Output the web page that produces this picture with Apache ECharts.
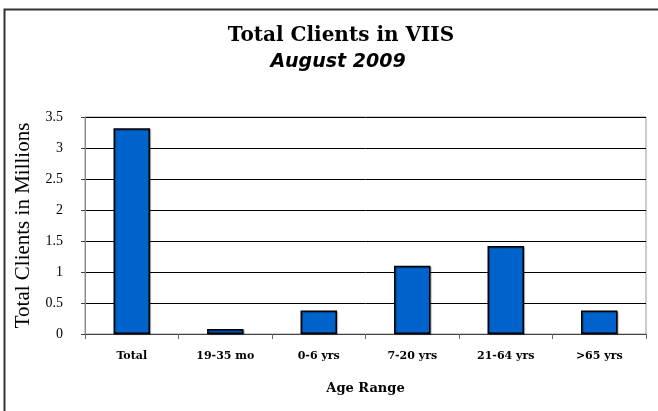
<!DOCTYPE html>
<html>
<head>
<meta charset="utf-8">
<script src="https://cdn.jsdelivr.net/npm/echarts@6/dist/echarts.min.js"></script>
<style>
  html, body { margin: 0; padding: 0; background: #fff; }
  #chart { width: 658px; height: 411px; }
</style>
</head>
<body>
<div id="chart"></div>
<script>
// data (millions of clients)
var categories = ['Total', '19-35 mo', '0-6 yrs', '7-20 yrs', '21-64 yrs', '>65 yrs'];
var clients = [3.32, 0.08, 0.38, 1.10, 1.42, 0.38];
var yTicks = [0, 0.5, 1, 1.5, 2, 2.5, 3, 3.5];

var myChart = echarts.init(document.getElementById('chart'));

var option = {
  backgroundColor: '#fff',
  animation: false,
  // outer chart frame, only top and left edges are inside the picture
  graphic: [{
    type: 'rect',
    shape: { x: 4.5, y: 9.5, width: 720, height: 500 },
    style: { fill: 'none', stroke: '#333', lineWidth: 2 },
    silent: true
  }],
  title: [{
    text: 'Total Clients in VIIS',
    left: 336, top: 21, textAlign: 'center',
    textStyle: { fontFamily: 'DejaVu Serif', fontWeight: 'bold', fontSize: 20, color: '#000' }
  }, {
    text: 'August 2009',
    left: 333, top: 48, textAlign: 'center',
    textStyle: { fontFamily: 'DejaVu Sans', fontWeight: 'bold', fontStyle: 'italic', fontSize: 19, color: '#000' }
  }],
  grid: {
    left: 85, right: 12, top: 117, bottom: 77,
    outerBoundsMode: 'none',
    show: true, borderColor: '#999', borderWidth: 1, backgroundColor: '#fff'
  },
  xAxis: {
    type: 'category',
    data: categories,
    name: 'Age Range',
    nameLocation: 'middle',
    nameGap: 48,
    nameTextStyle: { fontFamily: 'DejaVu Serif', fontWeight: 'bold', fontSize: 13, color: '#000' },
    axisLine: { lineStyle: { color: '#444', width: 1 } },
    axisTick: { show: true, alignWithLabel: false, length: 5, lineStyle: { color: '#666' } },
    axisLabel: { margin: 17, fontFamily: 'DejaVu Serif', fontWeight: 'bold', fontSize: 11, color: '#000' }
  },
  yAxis: {
    type: 'value',
    min: yTicks[0],
    max: yTicks[yTicks.length - 1],
    interval: 0.5,
    name: 'Total Clients in Millions',
    nameLocation: 'middle',
    nameGap: 51,
    nameTextStyle: { fontFamily: 'Liberation Serif', fontSize: 21, color: '#000' },
    axisLine: { show: true, lineStyle: { color: '#888', width: 1 } },
    axisTick: { show: true, length: 4, lineStyle: { color: '#444' } },
    axisLabel: { margin: 22, fontFamily: 'Liberation Serif', fontSize: 14, color: '#000' },
    splitLine: { show: true, lineStyle: { color: '#000', width: 1 } }
  },
  series: [{
    type: 'bar',
    data: clients,
    barWidth: '39%',
    itemStyle: {
      color: '#0063cc',
      borderColor: '#000',
      borderWidth: 1.5,
      shadowColor: 'rgba(0,0,0,0.35)',
      shadowOffsetX: 1,
      shadowOffsetY: 1,
      shadowBlur: 1
    }
  }]
};

myChart.setOption(option);
</script>
</body>
</html>
